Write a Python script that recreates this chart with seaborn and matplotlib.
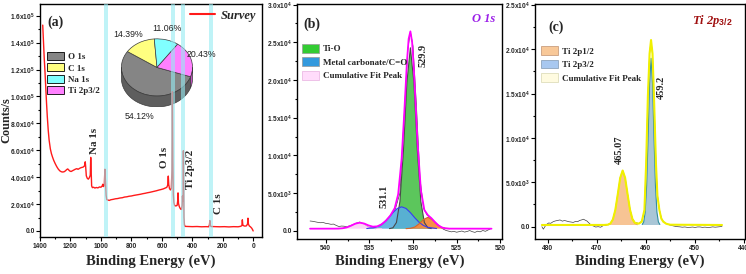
import numpy as np
import seaborn as sns
import matplotlib.pyplot as plt
from matplotlib.patches import Patch, Polygon
from matplotlib.lines import Line2D

sns.set_theme(style="ticks")
plt.rcParams['font.family'] = ['Liberation Serif', 'DejaVu Serif']
plt.rcParams['mathtext.fontset'] = 'custom'
plt.rcParams['mathtext.rm'] = 'Liberation Sans:bold'
plt.rcParams['mathtext.bf'] = 'Liberation Sans:bold'
plt.rcParams['mathtext.it'] = 'Liberation Serif:italic:bold'

# ---------------- data ----------------
# (a) survey spectrum: (binding energy eV, counts/s)
survey = [
    (1382, 153000), (1377, 140000), (1372, 128000), (1367, 118000), (1362, 106000),
    (1357, 95000), (1352, 85000), (1346, 75000), (1340, 67500), (1332, 61000),
    (1325, 57500), (1318, 55000), (1310, 52500), (1300, 50000), (1290, 47800),
    (1280, 46000), (1270, 44700), (1260, 44000), (1250, 43800), (1240, 44100),
    (1232, 44800), (1225, 45600), (1218, 46100), (1212, 45400), (1205, 44600),
    (1196, 44200), (1188, 44700), (1178, 45300), (1168, 45900), (1158, 46300),
    (1150, 45800), (1142, 46400), (1134, 46900), (1126, 47200), (1118, 47400),
    (1110, 48100), (1106, 49000), (1103, 51400), (1100, 47500), (1096, 41000),
    (1090, 39200), (1083, 38500), (1076, 39600), (1070, 41500), (1067, 54700),
    (1064, 45000), (1061, 33500), (1056, 32200), (1048, 32500), (1040, 31900),
    (1030, 32300), (1020, 32000), (1010, 32700), (1000, 32500), (992, 33400),
    (988, 34700), (984, 33000), (978, 33600), (974, 45900), (970, 36000),
    (966, 26500), (962, 23300), (955, 23000), (945, 22700), (935, 23200),
    (920, 23500), (905, 23900), (890, 24100), (875, 24500), (860, 24700),
    (845, 25200), (830, 25400), (815, 25800), (800, 26000), (785, 26400),
    (770, 26700), (755, 27000), (740, 27300), (725, 27700), (710, 28000),
    (695, 28400), (680, 28700), (665, 29100), (650, 29500), (635, 29900),
    (620, 30400), (605, 30800), (590, 31300), (578, 31900), (568, 32400),
    (562, 34000), (558, 40800), (555, 34500), (550, 31500), (544, 30500),
    (538, 31500), (534, 45000), (531, 103500), (528, 52000), (525, 27000),
    (521, 21000), (516, 18800), (508, 18600), (500, 19000), (496, 22500),
    (494, 28300), (491, 20500), (486, 18200), (481, 17000), (476, 16200),
    (471, 16000), (467, 19000), (465, 26000), (463, 22000), (461, 24000),
    (459, 59600), (457, 30000), (455, 10000), (452, 4500), (448, 3400),
    (430, 3300), (400, 3200), (370, 3300), (340, 3100), (310, 3200),
    (293, 3100), (288, 4500), (285, 7700), (282, 4200), (278, 3300),
    (250, 3200), (220, 3100), (190, 3200), (160, 3000), (130, 3200),
    (100, 3100), (85, 3400), (75, 3900), (72, 8300), (69, 4500),
    (62, 3800), (55, 3600), (45, 3800), (38, 5200), (35, 9500),
    (32, 5000), (26, 3700), (18, 3000), (10, 2000), (4, 800), (1, 0),
]
band_lo = [955, 513, 446, 263]
band_hi = [977, 541, 474, 291]
peak_names = ["Na 1s", "O 1s", "Ti 2p3/2", "C 1s"]
peak_name_ev = [1039, 580, 411, 226]
peak_name_cnt = [66900, 55000, 46100, 20300]

pie_labels = ["O 1s", "C 1s", "Na 1s", "Ti 2p3/2"]
pie_values = [54.12, 14.39, 11.06, 20.43]
pie_colors = ["#858585", "#ffff80", "#80ffff", "#ff80ff"]
pie_side_colors = ["#5e5e5e", "#c8c850", "#50c8c8", "#c050c0"]

# (b) O 1s high resolution
raw_b = [
    (541.8, 1290), (541.5, 1250), (541.2, 1180), (540.9, 1110), (540.6, 1060),
    (540.3, 1090), (540.0, 980), (539.7, 930), (539.4, 850), (539.1, 880),
    (538.8, 700), (538.5, 560), (538.2, 620), (537.9, 600), (537.6, 520),
    (537.3, 640), (537.0, 760), (536.7, 900), (536.4, 1060), (536.1, 1150),
    (535.8, 980), (535.5, 800), (535.2, 560), (534.9, 400), (534.6, 330),
    (534.3, 260), (534.0, 380), (533.7, 600), (533.4, 900), (533.0, 1350),
    (532.5, 2050), (532.0, 2950), (531.5, 5000), (531.0, 15500), (530.6, 24000),
    (530.3, 26400), (530.0, 24500), (529.6, 16500), (529.2, 7000), (528.8, 3000),
    (528.4, 2100), (528.0, 1700), (527.6, 1200), (527.2, 740), (526.8, 420),
    (526.5, 190), (526.2, 30), (525.9, -60), (525.6, -150), (525.3, -90),
    (525.0, -200), (524.7, -120), (524.4, -40), (524.1, -180), (523.8, -100),
    (523.5, 20), (523.2, -130), (522.9, -220), (522.6, -60), (522.3, -150),
    (522.0, 30), (521.7, -80), (521.4, 90), (521.1, 270),
]
baseline_b = 270
tio_b = [
    (532.7, 280), (532.3, 390), (531.9, 1090), (531.5, 3870), (531.1, 10590),
    (530.7, 19710), (530.3, 24270), (529.9, 19710), (529.5, 10590), (529.1, 3870),
    (528.7, 1090), (528.3, 390), (527.9, 280),
]
carbonate_b = [
    (535.3, 291), (534.3, 451), (533.8, 693), (533.3, 1117), (532.8, 1720),
    (532.3, 2402), (531.8, 2955), (531.3, 3170), (530.8, 2955), (530.3, 2402),
    (529.8, 1720), (529.3, 1117), (528.8, 693), (528.3, 451), (527.3, 291),
]
third_b = [
    (530.8, 277), (530.3, 319), (529.8, 489), (529.3, 908), (528.8, 1481),
    (528.3, 1770), (527.8, 1481), (527.3, 908), (526.8, 489), (526.3, 319),
    (525.8, 277),
]
bump_b = [
    (538.6, 280), (538.1, 320), (537.6, 438), (537.1, 670), (536.6, 943),
    (536.1, 1070), (535.6, 943), (535.1, 670), (534.6, 438), (534.1, 320),
    (533.6, 280),
]
cum_b = [
    (541.8, 270), (539.0, 273), (538.6, 280), (538.1, 320), (537.6, 438),
    (537.1, 670), (536.6, 943), (536.1, 1070), (535.6, 953), (535.1, 704),
    (534.6, 539), (534.1, 579), (533.6, 849), (533.1, 1339), (532.6, 2015),
    (532.1, 2985), (531.7, 4841), (531.3, 9578), (531.0, 15670), (530.7, 22317),
    (530.5, 25451), (530.3, 26451), (530.1, 25001), (529.9, 21463), (529.5, 12097),
    (529.1, 5391), (528.7, 2760), (528.3, 2073), (527.9, 1672), (527.5, 1171),
    (527.1, 721), (526.7, 438), (526.3, 319), (525.8, 277), (521.0, 270),
]
b_tags = ["529.9", "531.1"]
b_tag_ev = [528.84, 533.37]
b_tag_cnt = [23200, 4510]

# (c) Ti 2p high resolution
raw_c = [
    (481.2, 0), (480.9, -280), (480.5, 80), (480.2, 270), (479.8, 420),
    (479.4, 380), (478.9, 560), (478.5, 640), (478.0, 700), (477.5, 760),
    (477.0, 620), (476.6, 700), (476.2, 640), (475.7, 560), (475.2, 520),
    (474.8, 480), (474.3, 600), (473.9, 560), (473.5, 700), (473.1, 760),
    (472.7, 840), (472.3, 720), (472.0, 640), (471.6, 420), (471.3, 270),
    (470.9, 120), (470.6, 60), (470.2, -40), (469.7, 0), (469.2, -60),
    (468.7, 110), (468.2, 160), (467.7, 240), (467.2, 380), (466.7, 820),
    (466.2, 1850), (465.7, 3600), (465.2, 5450), (464.7, 6300), (464.2, 5500),
    (463.7, 3700), (463.2, 1950), (462.7, 900), (462.2, 480), (461.8, 420),
    (461.4, 360), (460.8, 600), (460.25, 1900), (459.9, 7100), (459.55, 14600),
    (459.2, 19500), (458.9, 21000), (458.6, 19400), (458.3, 14700), (457.9, 7200),
    (457.6, 3600), (457.2, 1950), (456.8, 980), (456.4, 600), (455.9, 380),
    (455.4, 260), (455.0, 180), (454.6, 120), (454.3, 80), (453.9, 30),
    (453.5, 0), (453.0, -20), (452.5, -60), (452.0, -30), (451.5, -80),
    (450.9, -70), (450.4, -40), (449.9, -90), (449.4, -30), (448.9, -30),
    (448.4, -80), (447.9, -50), (447.3, -90), (446.8, -70), (446.3, -20),
    (445.8, -60), (445.3, -30), (444.8, 0), (444.4, 20),
]
baseline_c = 190
ti12_c = [
    (467.7, 225), (467.2, 360), (466.7, 808), (466.2, 1876), (465.7, 3642),
    (465.2, 5496), (464.7, 6310), (464.2, 5496), (463.7, 3642), (463.2, 1876),
    (462.7, 808), (462.2, 360), (461.7, 225),
]
ti32_c = [
    (460.7, 250), (460.4, 536), (460.1, 1650), (459.8, 4662), (459.5, 10111),
    (459.2, 16199), (458.9, 18980), (458.6, 16199), (458.3, 10111), (458.0, 4662),
    (457.7, 1650), (457.4, 536), (457.1, 250),
]
cum_c = [
    (481.2, 190), (468.5, 195), (467.7, 225), (467.2, 360), (466.7, 808),
    (466.2, 1876), (465.7, 3642), (465.2, 5496), (464.7, 6330), (464.2, 5520),
    (463.7, 3680), (463.2, 1920), (462.7, 860), (462.2, 430), (461.8, 380),
    (461.4, 340), (460.8, 560), (460.25, 1880), (459.9, 7150), (459.55, 14650),
    (459.2, 19500), (458.9, 21040), (458.6, 19500), (458.3, 14650), (457.9, 7150),
    (457.6, 3500), (457.2, 1880), (456.8, 900), (456.4, 560), (455.8, 330),
    (455.0, 220), (444.4, 190),
]
c_tags = ["459.2", "465.07"]
c_tag_ev = [456.8, 465.35]
c_tag_cnt = [15690, 8640]

# ---------------- helpers ----------------
TICK_FONT = dict(fontsize=4.8, fontweight='bold', family='Liberation Sans')
LABEL_FONT = dict(fontsize=10.5, fontweight='bold', family='Liberation Serif')
LEG_FONT = dict(family='Liberation Serif', weight='bold', size=6.5)


def sci(v):
    if v == 0:
        return "0.0"
    e = int(np.floor(np.log10(v) + 1e-9))
    return f"{v / 10 ** e:.1f}x10$^{{{e}}}$"


def style_axes(ax, xticks, xminor, yticks, yminor, xlim, ylim):
    ax.set_xticks(xticks, [f"{t:g}" for t in xticks], **TICK_FONT)
    ax.set_xticks(xminor, minor=True)
    ax.set_yticks(yticks, [sci(t) for t in yticks], **TICK_FONT)
    ax.set_yticks(yminor, minor=True)
    ax.set_xlim(*xlim)
    ax.set_ylim(*ylim)
    ax.tick_params(which='both', direction='out', width=0.8, color='black', pad=1.5)
    ax.tick_params(axis='y', which='both', pad=1.0)
    ax.tick_params(which='major', length=2.6)
    ax.tick_params(which='minor', length=1.5)
    for s in ax.spines.values():
        s.set_visible(True)
        s.set_color('black')
        s.set_linewidth(1.0)
    ax.set_xlabel("Binding Energy (eV)", **LABEL_FONT)
    ax.set_ylabel("")
    ax.grid(False)


def xy(pairs):
    ev, cnt = zip(*pairs)
    return list(ev), list(cnt)


fig = plt.figure(figsize=(7.46, 2.74), dpi=100)
fig.patch.set_facecolor('white')

# ---------------- (a) survey ----------------
ax_a = fig.add_axes([0.0536, 0.1350, 0.2976, 0.8504], zorder=1)
ax_a.set_facecolor('none')
ev, cnt = xy(survey)
sns.lineplot(x=ev, y=cnt, ax=ax_a, color='#ff1a1a', lw=1.0, estimator=None, sort=False)
for lo, hi in zip(band_lo, band_hi):
    ax_a.axvspan(lo, hi, color=(0.585, 0.92, 0.95), alpha=0.6, lw=0, zorder=3)
style_axes(ax_a, np.arange(0, 1401, 200), np.arange(100, 1400, 200),
           np.arange(0, 160001, 20000), np.arange(10000, 170000, 20000),
           (1400, -57), (-4500, 168700))
ax_a.set_ylabel("Counts/s", fontsize=8.8, fontweight='bold', family='Liberation Serif')
ax_a.yaxis.set_label_coords(-0.126, 0.5)
ax_a.xaxis.set_label_coords(0.5, -0.077)

for name, e, c in zip(peak_names, peak_name_ev, peak_name_cnt):
    ax_a.text(e, c, name, rotation=90, ha='center', va='center', fontsize=8,
              fontweight='bold', family='Liberation Serif', zorder=4)
ax_a.text(0.032, 0.92, "(a)", transform=ax_a.transAxes, fontsize=10,
          fontweight='bold', family='Liberation Serif', va='center')

leg1 = ax_a.legend(handles=[Line2D([], [], color='#ff1a1a', lw=1.5)], labels=["Survey"],
                   loc='upper right', frameon=False, handlelength=2.0, handletextpad=0.5,
                   borderaxespad=0.15, borderpad=0.3,
                   prop=dict(family='Liberation Serif', style='italic', weight='bold', size=9))
ax_a.add_artist(leg1)
ax_a.legend(handles=[Patch(facecolor=c, edgecolor='black', lw=0.6) for c in pie_colors],
            labels=pie_labels, loc='upper left', bbox_to_anchor=(0.032, 0.794),
            frameon=False, borderpad=0, borderaxespad=0, handlelength=1.9,
            handleheight=1.0, labelspacing=0.25, handletextpad=0.4, prop=LEG_FONT)

# pie inset (tilted, with a rim)
pie_pct_pos = [(0.447, 0.516), (0.396, 0.871), (0.572, 0.893), (0.728, 0.785)]
depth = 0.38
ax_pie = fig.add_axes([0.1618, 0.6077, 0.0973, 0.2526], zorder=0)
ax_pie.pie(pie_values, colors=pie_colors, startangle=-19, counterclock=False, radius=1,
           wedgeprops=dict(edgecolor='#3c3c3c', linewidth=0.5))
theta = -19.0
for val, side in zip(pie_values, pie_side_colors):
    sweep = val / 100 * 360
    t1, t2 = theta - sweep, theta
    for k in (-1, 0, 1):
        a, b = max(t1 + 360 * k, -180), min(t2 + 360 * k, 0)
        if a < b:
            ang = np.radians(np.linspace(a, b, 40))
            top = np.column_stack([np.cos(ang), np.sin(ang)])
            bot = np.column_stack([np.cos(ang), np.sin(ang) - depth])[::-1]
            ax_pie.add_patch(Polygon(np.vstack([top, bot]), closed=True, facecolor=side,
                                     edgecolor='#3c3c3c', lw=0.5))
    theta = t1
ax_pie.set_aspect('auto')
ax_pie.set_xlim(-1.02, 1.02)
ax_pie.set_ylim(-1 - depth - 0.02, 1.02)
ax_pie.axis('off')
for v, (px, py) in zip(pie_values, pie_pct_pos):
    ax_a.text(px, py, f"{v:.2f}%", transform=ax_a.transAxes, ha='center', va='center',
              fontsize=6.3, family='Liberation Sans', color='#222222', zorder=4)

# ---------------- (b) O 1s ----------------
ax_b = fig.add_axes([0.3981, 0.1277, 0.2748, 0.8577])
ev, cnt = xy(raw_b)
sns.lineplot(x=ev, y=cnt, ax=ax_b, color='#404040', lw=0.5, estimator=None, sort=False)
for data, fc, ec, al in [(bump_b, '#f9c6f2', '#f9c6f2', 0.7),
                         (tio_b, '#5cc65c', '#4a4a4a', 1.0),
                         (carbonate_b, '#58aee0', '#3a3af0', 0.9),
                         (third_b, '#f58a3c', '#d8642a', 0.95)]:
    e, c = xy(data)
    ax_b.fill_between(e, baseline_b, c, facecolor=fc, edgecolor='none', alpha=al, zorder=2)
    ax_b.plot(e, c, color=ec, lw=0.8, zorder=2.5)
ev, cnt = xy(cum_b)
sns.lineplot(x=ev, y=cnt, ax=ax_b, color='#ff00ff', lw=1.3, estimator=None, sort=False, zorder=3)
style_axes(ax_b, [540, 535, 530, 525, 520], [537.5, 532.5, 527.5, 522.5],
           np.arange(0, 30001, 5000), np.arange(2500, 30000, 5000),
           (543.3, 519.8), (-1100, 30080))
ax_b.xaxis.set_label_coords(0.5, -0.068)
for t, e, c in zip(b_tags, b_tag_ev, b_tag_cnt):
    ax_b.text(e, c, t, rotation=90, ha='center', va='center', fontsize=7.5,
              fontweight='bold', family='Liberation Serif')
ax_b.text(0.03, 0.912, "(b)", transform=ax_b.transAxes, fontsize=10,
          fontweight='bold', family='Liberation Serif', va='center')
ax_b.text(0.966, 0.935, "O 1s", transform=ax_b.transAxes, fontsize=9, ha='right',
          va='center', fontweight='bold', style='italic', family='Liberation Serif',
          color='#9b1fe8')
ax_b.legend(handles=[Patch(facecolor='#33cc33', edgecolor='#999999', lw=0.5),
                     Patch(facecolor='#3399dd', edgecolor='#999999', lw=0.5),
                     Patch(facecolor='#ffdcfb', edgecolor='#e8b0e0', lw=0.5)],
            labels=["Ti-O", "Metal carbonate/C=O", "Cumulative Fit Peak"],
            loc='upper left', bbox_to_anchor=(0.024, 0.83), frameon=False,
            borderpad=0, borderaxespad=0, handlelength=1.9, handleheight=1.1,
            labelspacing=0.45, handletextpad=0.4, prop=LEG_FONT)

# ---------------- (c) Ti 2p ----------------
ax_c = fig.add_axes([0.7172, 0.1277, 0.2815, 0.8577])
ev, cnt = xy(raw_c)
sns.lineplot(x=ev, y=cnt, ax=ax_c, color='#404040', lw=0.5, estimator=None, sort=False)
for data, fc, ec in [(ti12_c, '#f7c494', '#e2a468'), (ti32_c, '#a9c6d6', '#2f8fa0')]:
    e, c = xy(data)
    ax_c.fill_between(e, baseline_c, c, facecolor=fc, edgecolor='none', zorder=2)
    ax_c.plot(e, c, color=ec, lw=0.8, zorder=2.5)
ev, cnt = xy(cum_c)
sns.lineplot(x=ev, y=cnt, ax=ax_c, color='#f0f000', lw=1.5, estimator=None, sort=False, zorder=3)
style_axes(ax_c, [480, 470, 460, 450, 440], [475, 465, 455, 445],
           np.arange(0, 25001, 5000), np.arange(2500, 25000, 5000),
           (482.6, 439.7), (-1390, 25100))
ax_c.xaxis.set_label_coords(0.5, -0.068)
for t, e, c in zip(c_tags, c_tag_ev, c_tag_cnt):
    ax_c.text(e, c, t, rotation=90, ha='center', va='center', fontsize=7.5,
              fontweight='bold', family='Liberation Serif')
ax_c.text(0.062, 0.9, "(c)", transform=ax_c.transAxes, fontsize=10,
          fontweight='bold', family='Liberation Serif', va='center')
ax_c.text(0.943, 0.929, r"Ti 2p$_{\mathit{3/2}}$", transform=ax_c.transAxes, fontsize=9,
          ha='right', va='center', fontweight='bold', style='italic',
          family='Liberation Serif', color='#a01010')
ax_c.legend(handles=[Patch(facecolor='#f8c898', edgecolor='#c09070', lw=0.5),
                     Patch(facecolor='#a8c8f0', edgecolor='#8098b0', lw=0.5),
                     Patch(facecolor='#fffbe0', edgecolor='#d8d8b0', lw=0.5)],
            labels=["Ti 2p1/2", "Ti 2p3/2", "Cumulative Fit Peak"],
            loc='upper left', bbox_to_anchor=(0.029, 0.82), frameon=False,
            borderpad=0, borderaxespad=0, handlelength=1.9, handleheight=1.1,
            labelspacing=0.45, handletextpad=0.4, prop=LEG_FONT)

fig.savefig("out.png", dpi=100)
